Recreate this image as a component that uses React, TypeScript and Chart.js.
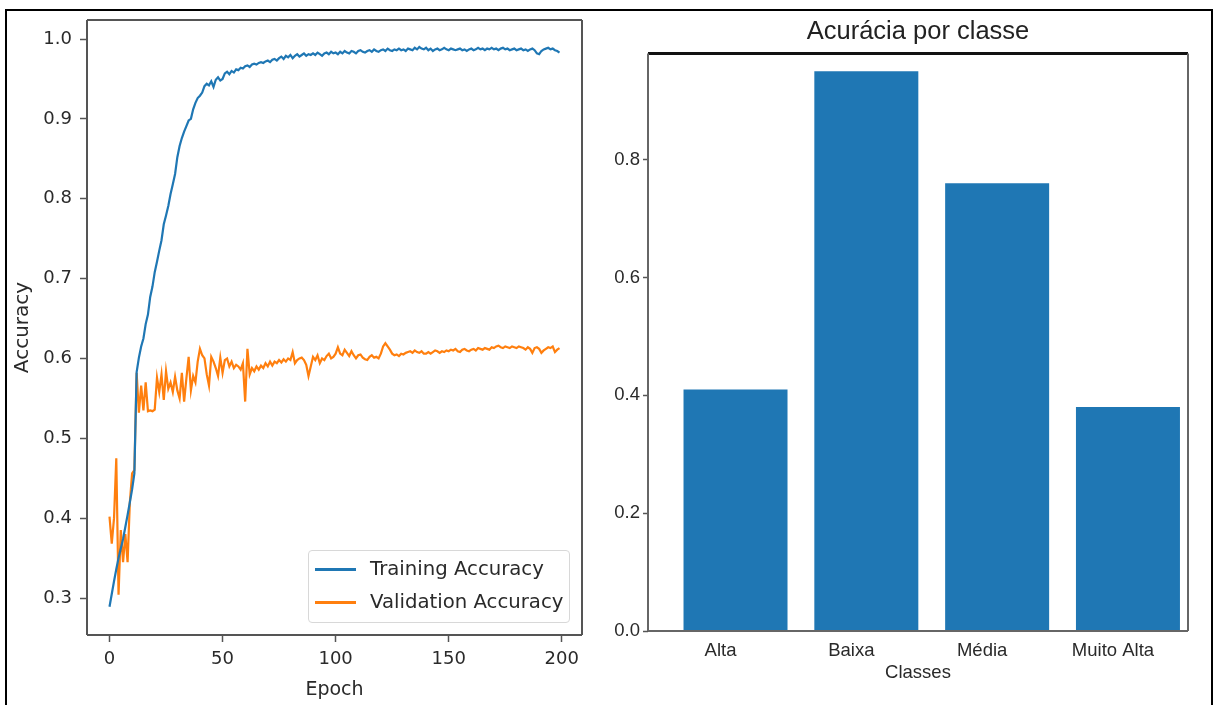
import React, { useEffect, useRef } from "react";
import { Chart, registerables } from "chart.js";
Chart.register(...registerables);

// ---------- data: left chart ----------
const seriesNames = ["Training Accuracy", "Validation Accuracy"];
const epochTicks = [0, 50, 100, 150, 200];
const accuracyTicks = [0.3, 0.4, 0.5, 0.6, 0.7, 0.8, 0.9, 1.0];

const trainAccuracy = [
  0.289, 0.305, 0.321, 0.336, 0.35, 0.362, 0.374, 0.389, 0.404, 0.42,
  0.436, 0.456, 0.583, 0.601, 0.615, 0.625, 0.643, 0.655, 0.677, 0.69,
  0.708, 0.721, 0.735, 0.748, 0.768, 0.779, 0.791, 0.806, 0.818, 0.831,
  0.852, 0.866, 0.876, 0.884, 0.891, 0.898, 0.9, 0.912, 0.92, 0.926,
  0.929, 0.933, 0.941, 0.944, 0.942, 0.947, 0.94, 0.949, 0.952, 0.948,
  0.95, 0.957, 0.959, 0.956, 0.96, 0.958, 0.962, 0.961, 0.964, 0.963,
  0.966, 0.967, 0.965, 0.968, 0.969, 0.968, 0.97, 0.971, 0.97, 0.972,
  0.973, 0.971, 0.974, 0.975, 0.973, 0.976, 0.978, 0.975, 0.979, 0.977,
  0.98, 0.976, 0.979, 0.981, 0.978, 0.98, 0.982, 0.979, 0.981, 0.98,
  0.982, 0.98, 0.983, 0.981, 0.979, 0.982, 0.983, 0.981, 0.984, 0.982,
  0.983, 0.981, 0.984, 0.982, 0.985, 0.983, 0.982, 0.985, 0.984, 0.982,
  0.985, 0.986, 0.984, 0.983, 0.985, 0.986, 0.984, 0.987, 0.985, 0.984,
  0.986, 0.987, 0.985, 0.988, 0.986, 0.985, 0.987, 0.986, 0.988, 0.986,
  0.987, 0.985, 0.988, 0.987, 0.986, 0.989, 0.987, 0.99, 0.988, 0.987,
  0.989, 0.986, 0.988, 0.985, 0.987, 0.988, 0.986, 0.987, 0.989, 0.987,
  0.986, 0.988, 0.987, 0.986, 0.987, 0.988, 0.986, 0.987, 0.985, 0.987,
  0.988, 0.986, 0.987, 0.989, 0.987, 0.988, 0.986, 0.988, 0.987, 0.989,
  0.987, 0.988, 0.986, 0.988, 0.989, 0.987, 0.988, 0.986, 0.987, 0.988,
  0.986, 0.987, 0.988, 0.986, 0.987, 0.985, 0.987, 0.988, 0.986, 0.982,
  0.981, 0.985, 0.987, 0.988, 0.989, 0.987, 0.988, 0.986, 0.985, 0.983,
];

const valAccuracy = [
  0.402, 0.368, 0.4, 0.475, 0.304, 0.385, 0.345, 0.38, 0.345, 0.42,
  0.456, 0.46, 0.582, 0.532, 0.566, 0.535, 0.57, 0.534, 0.535, 0.534,
  0.536, 0.576, 0.558, 0.58, 0.548, 0.584, 0.562, 0.57, 0.558, 0.577,
  0.56, 0.55, 0.582, 0.546, 0.575, 0.602, 0.56, 0.578, 0.57, 0.596,
  0.612, 0.604, 0.6, 0.58, 0.566, 0.602, 0.596, 0.588, 0.578, 0.601,
  0.582, 0.598, 0.6, 0.59, 0.596, 0.588, 0.592, 0.59, 0.586, 0.594,
  0.546, 0.612, 0.58, 0.588, 0.584, 0.59, 0.586, 0.591, 0.588, 0.594,
  0.59, 0.596, 0.591, 0.596, 0.594, 0.598, 0.595, 0.599, 0.596, 0.6,
  0.598, 0.608, 0.594, 0.598, 0.6, 0.601, 0.598, 0.592, 0.578, 0.59,
  0.602, 0.598, 0.604, 0.594, 0.6, 0.598, 0.603, 0.606, 0.6, 0.602,
  0.606, 0.614, 0.606, 0.604, 0.611, 0.607, 0.603, 0.609, 0.604, 0.6,
  0.604, 0.605, 0.601, 0.599, 0.598, 0.602, 0.604, 0.601, 0.602, 0.6,
  0.606, 0.615, 0.619, 0.615, 0.611, 0.606, 0.604, 0.605, 0.603, 0.606,
  0.605, 0.607, 0.608, 0.609, 0.607, 0.61, 0.608, 0.607, 0.609, 0.606,
  0.606, 0.608, 0.606, 0.608, 0.61, 0.609, 0.607, 0.609, 0.608, 0.61,
  0.609, 0.611, 0.61, 0.612, 0.609, 0.608, 0.611, 0.612, 0.61, 0.609,
  0.611, 0.612, 0.61, 0.613, 0.612, 0.611, 0.613, 0.612, 0.611, 0.614,
  0.613, 0.615, 0.616, 0.614, 0.613, 0.615, 0.614, 0.613, 0.615, 0.614,
  0.613, 0.615, 0.614, 0.613, 0.611, 0.614, 0.612, 0.607, 0.613, 0.614,
  0.612, 0.607, 0.61, 0.612, 0.614, 0.613, 0.615, 0.608, 0.611, 0.613,
];

// ---------- data: right chart ----------
const classNames = ["Alta", "Baixa", "Média", "Muito Alta"];
const classAccuracy = [0.41, 0.95, 0.76, 0.38];
const classTicks = [0, 0.2, 0.4, 0.6, 0.8];

const DEJAVU = "'DejaVu Sans', sans-serif";
const ARIAL = "'Liberation Sans', Arial, sans-serif";
const BLUE = "#1f77b4";
const ORANGE = "#ff7f0e";

type Side = { color: string; width: number };
function makeFrame(id: string, sides: { top: Side; right: Side; bottom: Side; left: Side }) {
  return {
    id,
    afterDatasetsDraw(chart: any) {
      const { ctx, chartArea } = chart;
      const { left, top, right, bottom } = chartArea;
      ctx.save();
      const line = (x1: number, y1: number, x2: number, y2: number, s: Side) => {
        ctx.beginPath();
        ctx.strokeStyle = s.color;
        ctx.lineWidth = s.width;
        ctx.moveTo(x1, y1);
        ctx.lineTo(x2, y2);
        ctx.stroke();
      };
      line(left, top, right, top, sides.top);
      line(right, top, right, bottom, sides.right);
      line(left, bottom, right, bottom, sides.bottom);
      line(left, top, left, bottom, sides.left);
      ctx.restore();
    },
  };
}

function leftConfig(): any {
  const gray = { color: "#555", width: 2 };
  return {
    type: "line",
    data: {
      datasets: [
        {
          label: seriesNames[0],
          data: trainAccuracy.map((v, i) => ({ x: i, y: v })),
          borderColor: BLUE,
          borderWidth: 2.2,
          pointRadius: 0,
          tension: 0,
          fill: false,
        },
        {
          label: seriesNames[1],
          data: valAccuracy.map((v, i) => ({ x: i, y: v })),
          borderColor: ORANGE,
          borderWidth: 2.2,
          pointRadius: 0,
          tension: 0,
          fill: false,
        },
      ],
    },
    options: {
      animation: false,
      responsive: false,
      maintainAspectRatio: false,
      layout: { padding: { top: 20, right: 18, left: 0, bottom: 0 } },
      plugins: { legend: { display: false }, tooltip: { enabled: false } },
      scales: {
        x: {
          type: "linear",
          min: -9.95,
          max: 208.95,
          afterFit: (s: any) => {
            s.height = 70;
          },
          afterBuildTicks: (s: any) => {
            s.ticks = epochTicks.map((v) => ({ value: v }));
          },
          ticks: {
            font: { family: DEJAVU, size: 18 },
            color: "#2a2a2a",
            padding: 7,
            maxRotation: 0,
            callback: (v: number) => String(v),
          },
          grid: { drawOnChartArea: false, drawTicks: true, tickLength: 7, tickColor: "#555", tickWidth: 1.5 },
          border: { display: false },
          title: {
            display: true,
            text: "Epoch",
            font: { family: DEJAVU, size: 19 },
            color: "#2a2a2a",
            padding: { top: 0, bottom: 4 },
          },
        },
        y: {
          type: "linear",
          min: 0.2537,
          max: 1.0238,
          afterFit: (s: any) => {
            s.width = 87;
          },
          afterBuildTicks: (s: any) => {
            s.ticks = accuracyTicks.map((v) => ({ value: v }));
          },
          ticks: {
            font: { family: DEJAVU, size: 18 },
            color: "#2a2a2a",
            padding: 8,
            callback: (v: number) => v.toFixed(1),
          },
          grid: { drawOnChartArea: false, drawTicks: true, tickLength: 7, tickColor: "#555", tickWidth: 1.5 },
          border: { display: false },
          title: {
            display: true,
            text: "Accuracy",
            font: { family: DEJAVU, size: 20 },
            color: "#2a2a2a",
            padding: { top: 11, bottom: 0 },
          },
        },
      },
    },
    plugins: [makeFrame("frameLeft", { top: gray, right: gray, bottom: gray, left: gray })],
  };
}

function rightConfig(): any {
  const gray = { color: "#666", width: 2 };
  return {
    type: "bar",
    data: {
      datasets: [
        {
          label: "Acurácia",
          data: classAccuracy.map((v, i) => ({ x: i, y: v })),
          backgroundColor: BLUE,
          borderWidth: 0,
          categoryPercentage: 1,
          barPercentage: 0.795,
        },
      ],
    },
    options: {
      animation: false,
      responsive: false,
      maintainAspectRatio: false,
      layout: { padding: { top: 0, right: 29, left: 0, bottom: 0 } },
      plugins: {
        legend: { display: false },
        tooltip: { enabled: false },
        title: {
          display: true,
          text: "Acurácia por classe",
          fullSize: false,
          font: { family: ARIAL, size: 25.5, weight: "normal" },
          color: "#222",
          padding: { top: 17, bottom: 6 },
        },
      },
      scales: {
        x: {
          type: "linear",
          min: -0.669,
          max: 3.459,
          offset: false,
          afterFit: (s: any) => {
            s.height = 74;
          },
          afterBuildTicks: (s: any) => {
            s.ticks = classNames.map((_, i) => ({ value: i }));
          },
          ticks: {
            font: { family: ARIAL, size: 18.5 },
            color: "#2a2a2a",
            padding: 1,
            labelOffset: -15,
            maxRotation: 0,
            autoSkip: false,
            callback: (v: number) => classNames[Math.round(v)] ?? "",
          },
          grid: { display: false, offset: false },
          border: { display: false },
          title: {
            display: true,
            text: "Classes",
            font: { family: ARIAL, size: 18.5 },
            color: "#2a2a2a",
            padding: { top: 0, bottom: 21 },
          },
        },
        y: {
          type: "linear",
          min: 0,
          max: 0.98,
          afterFit: (s: any) => {
            s.width = 48;
          },
          afterBuildTicks: (s: any) => {
            s.ticks = classTicks.map((v) => ({ value: v }));
          },
          ticks: {
            font: { family: ARIAL, size: 18.5 },
            color: "#2a2a2a",
            padding: 3,
            callback: (v: number) => v.toFixed(1),
          },
          grid: { drawOnChartArea: false, drawTicks: true, tickLength: 5, tickColor: "#555", tickWidth: 1.5 },
          border: { display: false },
        },
      },
    },
    plugins: [
      makeFrame("frameRight", { top: { color: "#111", width: 3 }, right: gray, bottom: gray, left: gray }),
    ],
  };
}

export default function App() {
  const leftRef = useRef<HTMLCanvasElement>(null);
  const rightRef = useRef<HTMLCanvasElement>(null);

  useEffect(() => {
    const l = new Chart(leftRef.current!, leftConfig());
    const r = new Chart(rightRef.current!, rightConfig());
    return () => {
      l.destroy();
      r.destroy();
    };
  }, []);

  const legendColors = [BLUE, ORANGE];

  return (
    <div
      style={{
        position: "fixed",
        left: 0,
        top: 0,
        width: 1217,
        height: 705,
        background: "#fff",
        overflow: "hidden",
      }}
    >
      <div
        style={{
          position: "absolute",
          left: 5,
          top: 9,
          width: 1208,
          height: 720,
          border: "2px solid #000",
          boxSizing: "border-box",
        }}
      />
      <canvas
        ref={leftRef}
        width={600}
        height={705}
        style={{ position: "absolute", left: 0, top: 0, width: 600, height: 705 }}
      />
      <canvas
        ref={rightRef}
        width={617}
        height={705}
        style={{ position: "absolute", left: 600, top: 0, width: 617, height: 705 }}
      />
      <div
        style={{
          position: "absolute",
          left: 308,
          top: 550,
          width: 262,
          height: 73,
          boxSizing: "border-box",
          border: "1px solid #d8d8d8",
          borderRadius: 4,
          background: "rgba(255,255,255,0.8)",
          fontFamily: DEJAVU,
          fontSize: 19.7,
          color: "#2a2a2a",
        }}
      >
        {seriesNames.map((name, i) => (
          <div
            key={name}
            style={{
              position: "absolute",
              left: 0,
              top: 6 + i * 33,
              height: 24,
              width: "100%",
            }}
          >
            <div
              style={{
                position: "absolute",
                left: 6,
                top: 11,
                width: 41,
                height: 3,
                background: legendColors[i],
              }}
            />
            <div style={{ position: "absolute", left: 61, top: 0, lineHeight: "24px", whiteSpace: "nowrap" }}>
              {name}
            </div>
          </div>
        ))}
      </div>
    </div>
  );
}
